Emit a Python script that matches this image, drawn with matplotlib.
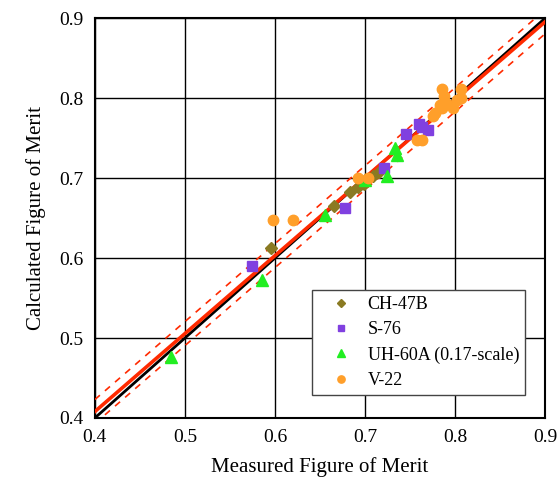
import numpy as np
import matplotlib
matplotlib.use("Agg")
import matplotlib.pyplot as plt

plt.rcParams['font.family'] = ['Liberation Serif', 'DejaVu Serif']

# measured vs calculated figure of merit
ch47b_meas = [0.596, 0.665, 0.683, 0.692, 0.699, 0.700, 0.709, 0.716]
ch47b_calc = [0.612, 0.665, 0.682, 0.689, 0.692, 0.697, 0.702, 0.708]

s76_meas = [0.575, 0.678, 0.721, 0.746, 0.760, 0.763, 0.770]
s76_calc = [0.590, 0.663, 0.712, 0.755, 0.767, 0.764, 0.760]

uh60_meas = [0.485, 0.586, 0.656, 0.700, 0.724, 0.733, 0.735]
uh60_calc = [0.476, 0.573, 0.654, 0.697, 0.702, 0.737, 0.729]

v22_meas = [0.598, 0.620, 0.692, 0.703, 0.758, 0.763, 0.776, 0.778, 0.783,
            0.785, 0.785, 0.788, 0.791, 0.798, 0.802, 0.807, 0.806]
v22_calc = [0.648, 0.648, 0.700, 0.700, 0.748, 0.748, 0.777, 0.781, 0.791,
            0.812, 0.787, 0.802, 0.793, 0.787, 0.797, 0.812, 0.800]

# fitted line and +/- band
fit_slope, fit_icpt, band = 0.975, 0.018, 0.015

fig = plt.figure(figsize=(5.58, 4.90), dpi=100)
ax = fig.add_axes([0.170, 0.147, 0.807, 0.816])

xs = np.array([0.4, 0.9])
ax.plot(xs, xs, color='black', lw=2.0, zorder=2)
fit = fit_slope * xs + fit_icpt
ax.plot(xs, fit, color='#ff2a00', lw=2.6, zorder=3)
ax.plot(xs, fit + band, color='#ff2a00', lw=1.2, ls=(0, (4, 4)), zorder=3)
ax.plot(xs, fit - band, color='#ff2a00', lw=1.2, ls=(0, (4, 4)), zorder=3)

ax.plot(ch47b_meas, ch47b_calc, 'D', color='#8a7a22', ms=6, ls='none',
        label='CH-47B', zorder=4)
ax.plot(s76_meas, s76_calc, 's', color='#8040e0', ms=7, ls='none',
        label='S-76', zorder=4)
ax.plot(uh60_meas, uh60_calc, '^', color='#22ee22', ms=8, ls='none',
        label='UH-60A (0.17-scale)', zorder=4)
ax.plot(v22_meas, v22_calc, 'o', color='#ff9f2a', ms=7.5, ls='none',
        label='V-22', zorder=4)

ax.set_xlim(0.4, 0.9)
ax.set_ylim(0.4, 0.9)
ax.set_xticks(np.arange(0.4, 0.91, 0.1))
ax.set_yticks(np.arange(0.4, 0.91, 0.1))
ax.set_xticklabels(['0.4', '0.5', '0.6', '0.7', '0.8', '0.9'])
ax.set_yticklabels(['0.4', '0.5', '0.6', '0.7', '0.8', '0.9'])
ax.tick_params(length=0, labelsize=14, pad=8)
ax.grid(True, color='black', lw=1.0, zorder=1)
for sp in ax.spines.values():
    sp.set_linewidth(1.5)

ax.set_xlabel('Measured Figure of Merit', fontsize=15, labelpad=8)
ax.set_ylabel('Calculated Figure of Merit', fontsize=15, labelpad=10)

leg = ax.legend(loc='lower right', bbox_to_anchor=(0.956, 0.057), fontsize=13,
                markerscale=0.7, fancybox=False, framealpha=1,
                borderpad=0.35, handletextpad=0.2, labelspacing=0.45,
                handlelength=2.5, borderaxespad=0)
leg.get_frame().set_edgecolor('#444444')
leg.get_frame().set_linewidth(1.0)

fig.savefig('out.png', dpi=100)
